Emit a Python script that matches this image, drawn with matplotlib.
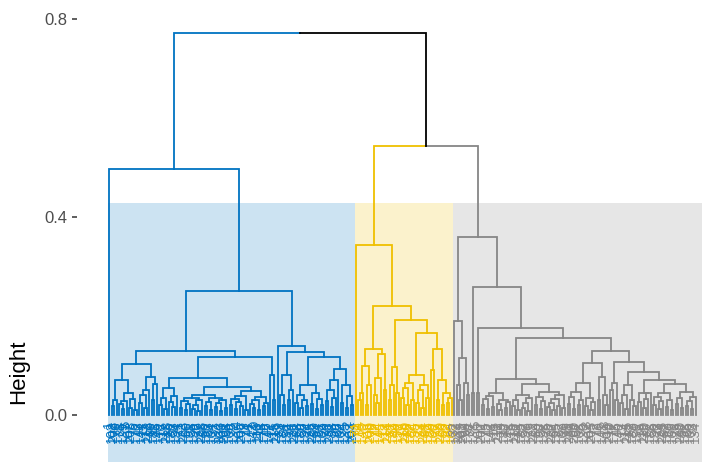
import matplotlib.pyplot as plt
from matplotlib.patches import Rectangle

#----- Data: merge height between neighbouring leaves, in leaf order -----
blue_gaps = [
    0.497, 0.018, 0.030, 0.070, 0.022, 0.012, 0.028, 0.045, 0.015, 0.032,
    0.010, 0.103, 0.025, 0.040, 0.014, 0.050, 0.076, 0.030, 0.062, 0.129,
    0.020, 0.034, 0.012, 0.054, 0.026, 0.016, 0.038, 0.074, 0.015, 0.028,
    0.010, 0.022, 0.034, 0.012, 0.020, 0.008, 0.030, 0.040, 0.018, 0.026,
    0.010, 0.035, 0.016, 0.024, 0.009, 0.030, 0.014, 0.056, 0.020, 0.032,
    0.012, 0.026, 0.018, 0.038, 0.010, 0.048, 0.022, 0.014, 0.030, 0.011,
    0.036, 0.018, 0.025, 0.117, 0.080, 0.030, 0.251, 0.139, 0.040, 0.020,
    0.080, 0.030, 0.050, 0.127, 0.024, 0.040, 0.014, 0.030, 0.018, 0.060,
    0.022, 0.045, 0.012, 0.033, 0.020, 0.117, 0.028, 0.050, 0.016, 0.035,
    0.070, 0.092, 0.024, 0.060, 0.015, 0.038, 0.020 ]
yellow_gaps = [
    0.344, 0.030, 0.045, 0.100, 0.020, 0.060, 0.133, 0.040, 0.025, 0.075,
    0.123, 0.050, 0.221, 0.030, 0.060, 0.097, 0.045, 0.191, 0.035, 0.055,
    0.020, 0.065, 0.030, 0.080, 0.025, 0.050, 0.015, 0.060, 0.035, 0.165,
    0.090, 0.133, 0.030, 0.070, 0.020, 0.045, 0.025, 0.035 ]
grey_gaps = [
    0.189, 0.060, 0.030, 0.115, 0.064, 0.040, 0.360, 0.044, 0.259, 0.044,
    0.175, 0.020, 0.032, 0.012, 0.038, 0.016, 0.044, 0.022, 0.010, 0.030,
    0.014, 0.026, 0.072, 0.018, 0.030, 0.010, 0.040, 0.015, 0.025, 0.008,
    0.034, 0.062, 0.020, 0.036, 0.012, 0.028, 0.046, 0.016, 0.024, 0.010,
    0.032, 0.018, 0.040, 0.014, 0.155, 0.022, 0.036, 0.012, 0.046, 0.020,
    0.030, 0.064, 0.018, 0.034, 0.010, 0.026, 0.105, 0.030, 0.076, 0.040,
    0.020, 0.129, 0.050, 0.064, 0.030, 0.107, 0.024, 0.040, 0.012, 0.060,
    0.030, 0.018, 0.086, 0.026, 0.045, 0.014, 0.032, 0.044, 0.070, 0.020,
    0.036, 0.012, 0.028, 0.044, 0.016, 0.030, 0.010, 0.062, 0.022, 0.034,
    0.014, 0.046, 0.018, 0.028, 0.012, 0.036 ]
top_join = 0.772          # blue vs (yellow + grey)
yellow_grey_join = 0.543

cluster_colours = [ "#0073C2", "#EFC000", "#868686" ]
rect_top = 0.428
rect_bottom = -0.095
y_ticks = [ 0.0, 0.4, 0.8 ]
y_tick_labels = [ "0.0", "0.4", "0.8" ]

#----- Build the tree -----
gaps = blue_gaps + [ top_join ] + yellow_gaps + [ yellow_grey_join ] + grey_gaps
sizes = [ len(blue_gaps) + 1, len(yellow_gaps) + 1, len(grey_gaps) + 1 ]
cluster_of = []
for c, s in enumerate( sizes ):
    cluster_of += [ c ] * s
n_leaves = len( cluster_of )
leaf_ids = [ (k * 101) % n_leaves + 1 for k in range( n_leaves ) ]

segments = []

def build( lo, hi ):
    if cluster_of[lo] == cluster_of[hi]:
        colour = cluster_colours[ cluster_of[lo] ]
    else:
        colour = "black"
    if lo == hi:
        return lo, 0.0, colour
    k = max( range( lo, hi ), key=lambda j: gaps[j] )
    xl, hl, cl = build( lo, k )
    xr, hr, cr = build( k + 1, hi )
    h = gaps[k]
    x = ( xl + xr ) / 2
    segments.append( ( [xl, xl, x], [hl, h, h], cl ) )
    segments.append( ( [xr, xr, x], [hr, h, h], cr ) )
    return x, h, colour

build( 0, n_leaves - 1 )

#----- Plot -----
plt.rcParams["font.family"] = [ "Liberation Sans", "DejaVu Sans" ]
fig = plt.figure( figsize=(7.02, 4.63), dpi=100 )
ax = fig.add_axes( [77/702, 0, 625/702, 1] )

step = (696 - 109) / (n_leaves - 1)
ax.set_xlim( (77 - 109) / step, (702 - 109) / step )
ax.set_ylim( (415 - 463) / 495, 415 / 495 )

# cluster rectangles
start = 0
for c, s in enumerate( sizes ):
    ax.add_patch( Rectangle( (start - 0.5, rect_bottom), s + (3 if c == 2 else 0), rect_top - rect_bottom,
                             facecolor=cluster_colours[c], alpha=0.2, edgecolor="none", zorder=1 ) )
    start += s

for xs, ys, col in segments:
    ax.plot( xs, ys, color=col, lw=1.3, zorder=3, solid_joinstyle="miter" )

for i in range( n_leaves ):
    ax.text( i, -0.012, str( leaf_ids[i] ), rotation=90, ha="center", va="top",
             fontsize=9.5, color=cluster_colours[ cluster_of[i] ], zorder=2 )

ax.set_yticks( y_ticks )
ax.set_yticklabels( y_tick_labels )
ax.set_xticks( [] )
ax.tick_params( axis="y", length=3.6, width=1.1, color="#333333", labelcolor="#4D4D4D",
                labelsize=12, pad=3.6 )
for sp in ax.spines.values():
    sp.set_visible( False )

fig.text( 19/702, 1 - 372/463, "Height", rotation=90, ha="center", va="center", fontsize=16 )

fig.savefig( "out.png", dpi=100 )
